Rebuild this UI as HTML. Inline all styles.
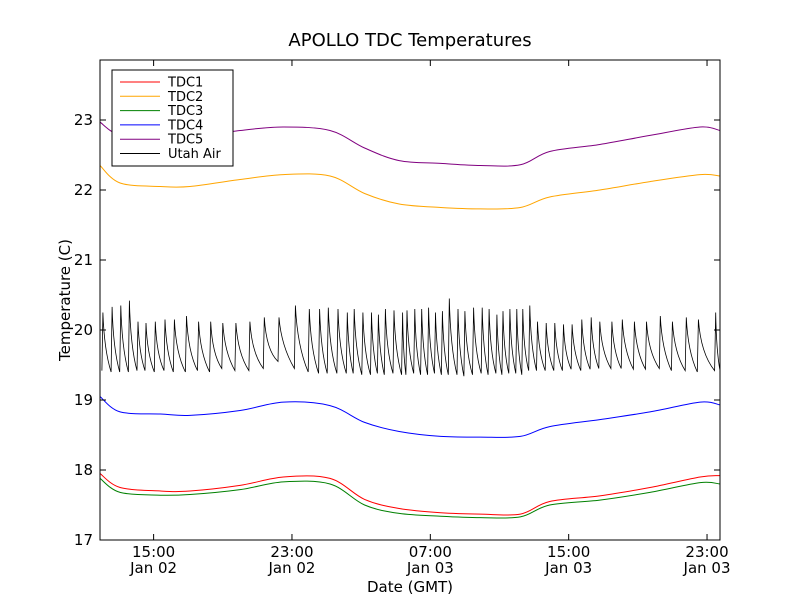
<!DOCTYPE html>
<html><head><meta charset="utf-8"><style>
body{margin:0;background:#fff}
svg text{font-family:"DejaVu Sans","Liberation Sans",sans-serif}
</style></head><body>
<svg id="chart" width="800" height="600" viewBox="0 0 800 600" xmlns="http://www.w3.org/2000/svg">
<rect width="800" height="600" fill="#fff"/>
<text x="410" y="46" font-size="18" text-anchor="middle">APOLLO TDC Temperatures</text>
<text x="410" y="592" font-size="15" text-anchor="middle">Date (GMT)</text>
<text transform="translate(70,300) rotate(-90)" font-size="15" text-anchor="middle">Temperature (C)</text>
<g id="series"></g>
<g id="axes"></g>
<rect x="100" y="60" width="620" height="480" fill="none" stroke="#000" stroke-width="1"/>
<g id="legend"></g>
</svg>
<script>
// hours since Jan 02 00:00 GMT
const sampleTimes=[11.9,13.06,15.4,17.1,20.0,22.5,25.2,27.2,29.2,31.6,33.9,36.2,37.9,40.8,43.7,46.6,47.75];
const tdc1=[17.95,17.75,17.7,17.7,17.78,17.9,17.88,17.58,17.45,17.39,17.37,17.37,17.55,17.63,17.75,17.9,17.92];
const tdc2=[22.35,22.1,22.05,22.05,22.15,22.22,22.2,21.95,21.8,21.75,21.73,21.75,21.9,22.0,22.12,22.22,22.2];
const tdc3=[17.88,17.68,17.64,17.65,17.72,17.83,17.8,17.5,17.38,17.34,17.32,17.33,17.5,17.57,17.68,17.82,17.8];
const tdc4=[19.05,18.83,18.8,18.78,18.85,18.97,18.92,18.68,18.55,18.48,18.47,18.48,18.62,18.72,18.83,18.97,18.93];
const tdc5=[22.97,22.78,22.72,22.75,22.85,22.9,22.85,22.6,22.42,22.38,22.35,22.36,22.55,22.65,22.78,22.9,22.85];
const airPeakTimes=[12.07,12.6,13.1,13.6,14.1,14.56,15.1,15.66,16.2,16.9,17.6,18.3,19.0,19.76,20.57,21.4,22.25,23.2,24.0,24.6,25.1,25.66,26.2,26.6,27.1,27.6,28.0,28.4,28.9,29.4,29.65,30.1,30.5,30.9,31.3,31.7,32.1,32.6,33.0,33.5,34.0,34.4,34.85,35.2,35.6,36.0,36.35,36.75,37.2,37.7,38.2,38.7,39.2,39.76,40.3,40.8,41.5,42.1,42.8,43.5,44.3,45.0,45.8,46.5,47.5];
const airPeaks=[20.25,20.33,20.35,20.42,20.12,20.1,20.12,20.15,20.15,20.2,20.12,20.12,20.1,20.1,20.12,20.18,20.18,20.35,20.3,20.3,20.32,20.3,20.25,20.3,20.25,20.25,20.22,20.3,20.28,20.25,20.28,20.3,20.3,20.32,20.25,20.27,20.45,20.3,20.27,20.32,20.32,20.3,20.22,20.27,20.3,20.3,20.3,20.35,20.12,20.1,20.1,20.08,20.08,20.15,20.18,20.12,20.12,20.15,20.12,20.12,20.2,20.12,20.18,20.15,20.25];
const airTroughs=[19.42,19.4,19.4,19.4,19.42,19.42,19.4,19.42,19.4,19.4,19.42,19.4,19.45,19.42,19.42,19.45,19.55,19.45,19.4,19.38,19.38,19.38,19.38,19.38,19.36,19.36,19.38,19.36,19.38,19.36,19.36,19.38,19.36,19.36,19.38,19.36,19.36,19.36,19.34,19.36,19.38,19.36,19.38,19.36,19.38,19.38,19.36,19.42,19.42,19.42,19.42,19.42,19.44,19.42,19.44,19.45,19.45,19.45,19.44,19.44,19.45,19.42,19.42,19.4,19.42];
const yTicks=[17,18,19,20,21,22,23];
const xTickTimes=[15,23,31,39,47];
const xTickLabels=[["15:00","Jan 02"],["23:00","Jan 02"],["07:00","Jan 03"],["15:00","Jan 03"],["23:00","Jan 03"]];
const seriesNames=["TDC1","TDC2","TDC3","TDC4","TDC5","Utah Air"];
const seriesColors=["#ff0000","#ffa500","#008000","#0000ff","#800080","#000000"];

const NS="http://www.w3.org/2000/svg";
const X0=100,X1=720,Y0=540,Y1=60,T0=11.9,T1=47.75,V0=17,V1=23.857;
function xs(t){return X0+(t-T0)/(T1-T0)*(X1-X0);}
function ys(v){return Y0-(v-V0)/(V1-V0)*(Y0-Y1);}
function mk(tag,attrs,parent){const e=document.createElementNS(NS,tag);for(const k in attrs)e.setAttribute(k,attrs[k]);parent.appendChild(e);return e;}
const sg=document.getElementById('series'),ag=document.getElementById('axes'),lg=document.getElementById('legend');

// Utah Air sawtooth
let d="";
for(let i=0;i<airPeakTimes.length;i++){
  const t=airPeakTimes[i];
  d+=(i?"L":"M")+xs(t-0.06).toFixed(1)+" "+ys(airTroughs[i]).toFixed(1);
  d+="L"+xs(t).toFixed(1)+" "+ys(airPeaks[i]).toFixed(1);
  const tn=i+1<airPeakTimes.length?airPeakTimes[i+1]-0.06:Math.min(t+0.3,T1);
  const tr=i+1<airTroughs.length?airTroughs[i+1]:airTroughs[i];
  const cx=xs(t+(tn-t)*0.15), cy=ys(airTroughs[i]+(airPeaks[i]-airTroughs[i])*0.35);
  d+="Q"+cx.toFixed(1)+" "+cy.toFixed(1)+" "+xs(tn).toFixed(1)+" "+ys(tr).toFixed(1);
}
const air=mk('path',{d:d,fill:'none',stroke:'#000','stroke-width':0.8},sg);



function smoothPath(pts){
  let s="M"+pts[0][0].toFixed(1)+" "+pts[0][1].toFixed(1);
  for(let i=0;i<pts.length-1;i++){
    const p0=pts[Math.max(0,i-1)],p1=pts[i],p2=pts[i+1],p3=pts[Math.min(pts.length-1,i+2)];
    const c1=[p1[0]+(p2[0]-p0[0])/6,p1[1]+(p2[1]-p0[1])/6];
    const c2=[p2[0]-(p3[0]-p1[0])/6,p2[1]-(p3[1]-p1[1])/6];
    s+="C"+c1[0].toFixed(1)+" "+c1[1].toFixed(1)+" "+c2[0].toFixed(1)+" "+c2[1].toFixed(1)+" "+p2[0].toFixed(1)+" "+p2[1].toFixed(1);
  }
  return s;
}
const tdcs=[tdc1,tdc2,tdc3,tdc4,tdc5];
[4,1,3,0,2].forEach(k=>{
  const arr=tdcs[k];
  const p=mk('path',{d:smoothPath(arr.map((v,i)=>[xs(sampleTimes[i]),ys(v)])),fill:'none',stroke:seriesColors[k],'stroke-width':1},sg);
  
  
});

yTicks.forEach(v=>{
  const y=ys(v);
  mk('line',{x1:X0,x2:X0+6,y1:y,y2:y,stroke:'#000'},ag);
  mk('line',{x1:X1-6,x2:X1,y1:y,y2:y,stroke:'#000'},ag);
  const t=mk('text',{x:93,y:y+5,'font-size':15,'text-anchor':'end'},ag);
  t.textContent=v;
  
  
});
xTickTimes.forEach((tt,i)=>{
  const x=xs(tt);
  mk('line',{x1:x,x2:x,y1:Y0,y2:Y0-6,stroke:'#000'},ag);
  mk('line',{x1:x,x2:x,y1:Y1,y2:Y1+6,stroke:'#000'},ag);
  const t1=mk('text',{x:x,y:557,'font-size':15,'text-anchor':'middle'},ag);
  t1.textContent=xTickLabels[i][0];
  
  
  const t2=mk('text',{x:x,y:573,'font-size':15,'text-anchor':'middle'},ag);
  t2.textContent=xTickLabels[i][1];
  
  
});

mk('rect',{x:112,y:70,width:121,height:96,fill:'#fff',stroke:'#000'},lg);
seriesNames.forEach((n,i)=>{
  const y=82+i*14.3;
  const l=mk('line',{x1:120,x2:160,y1:y,y2:y,stroke:seriesColors[i],'stroke-width':1},lg);
  
  
  const t=mk('text',{x:168,y:y+4.5,'font-size':13},lg);
  t.textContent=n;
  
  
});
</script>
</body></html>
